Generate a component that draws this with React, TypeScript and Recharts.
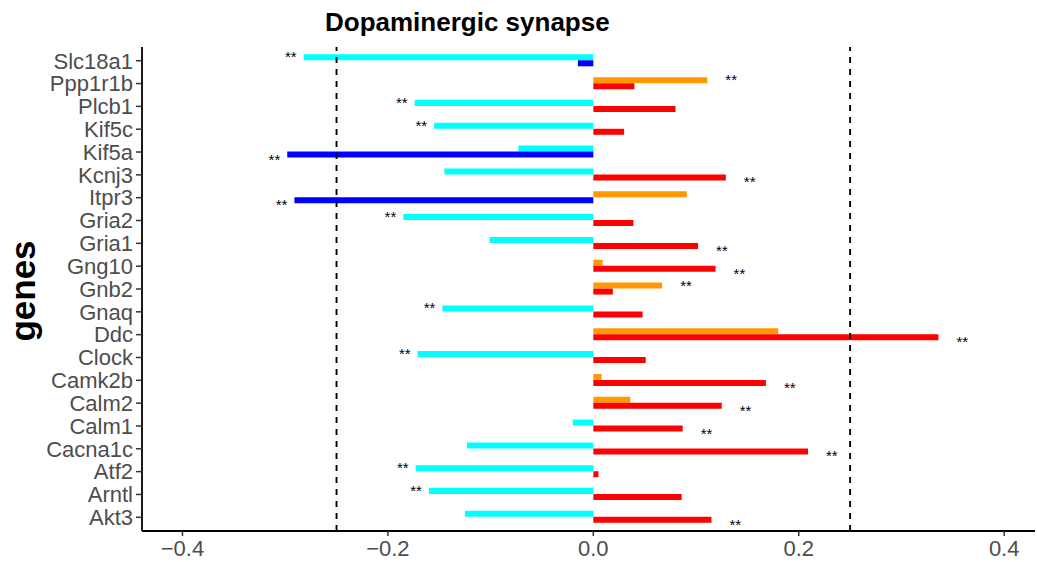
import React from "react";
import { BarChart, Bar, Cell, XAxis, YAxis, ReferenceLine, LabelList } from "recharts";

const genes = ["Slc18a1", "Ppp1r1b", "Plcb1", "Kif5c", "Kif5a", "Kcnj3", "Itpr3", "Gria2", "Gria1", "Gng10", "Gnb2",
    "Gnaq", "Ddc", "Clock", "Camk2b", "Calm2", "Calm1", "Cacna1c", "Atf2", "Arntl", "Akt3"];

// upper bar (cyan when negative, orange when positive)
const upper = [-0.282, 0.111, -0.174, -0.155, -0.073, -0.145, 0.091, -0.185, -0.101, 0.009, 0.067,
    -0.147, 0.180, -0.171, 0.008, 0.036, -0.020, -0.123, -0.173, -0.160, -0.125];
// lower bar (blue when negative, red when positive)
const lower = [-0.015, 0.040, 0.080, 0.030, -0.298, 0.129, -0.291, 0.039, 0.102, 0.119, 0.019,
    0.048, 0.336, 0.051, 0.168, 0.125, 0.087, 0.209, 0.005, 0.086, 0.115];

const upperSig = ["**", "**", "**", "**", "", "", "", "**", "", "", "**",
    "**", "", "**", "", "", "", "", "**", "**", ""];
const lowerSig = ["", "", "", "", "**", "**", "**", "", "**", "**", "",
    "", "**", "", "**", "**", "**", "**", "", "", "**"];

const xTicks = [-0.4, -0.2, 0, 0.2, 0.4];
const cutoffs = [-0.25, 0.25];

const FONT = '"Liberation Sans", Arial, Helvetica, sans-serif';

const data = genes.map((g, i) => ({
    gene: g,
    up: upper[i],
    low: lower[i],
    upLab: upperSig[i] ? upper[i] : null,
    lowLab: lowerSig[i] ? lower[i] : null,
}));

const fmtX = (v: number) => (v === 0 ? "0.0" : v.toFixed(1).replace("-", "\u2212"));

// draws the "**" just past the end of the bar
const sigLabel = (dy: number) => (props: any) => {
    const { x, y, width, height, value } = props;
    if (value === null || value === undefined) return null;
    const x0 = Number(x), w = Number(width);
    const left = Math.min(x0, x0 + w);
    const right = Math.max(x0, x0 + w);
    const cy = Number(y) + Number(height) / 2;
    const neg = Number(value) < 0;
    return (
        <text x={neg ? left - 7 : right + 18} y={cy + dy} textAnchor={neg ? "end" : "start"}
            fontSize={15} fontFamily={FONT} fill="#000">**</text>
    );
};

export default function App() {
    return (
        <div style={{ position: "absolute", left: 0, top: 0, width: 1037, height: 562, background: "#fff" }}>
            <BarChart width={1037} height={562} data={data} layout="vertical"
                margin={{ top: 47, right: 2, left: 0, bottom: 0 }} barSize={6} barGap={0}>
                <XAxis type="number" domain={[-0.4394, 0.43]} ticks={xTicks} allowDataOverflow
                    tickFormatter={fmtX} height={31} tickSize={5} tickMargin={4}
                    tick={{ fill: "#4D4D4D", fontSize: 22, fontFamily: FONT }}
                    axisLine={{ stroke: "#000", strokeWidth: 1.8 }} tickLine={{ stroke: "#333", strokeWidth: 1.5 }} />
                <YAxis type="category" dataKey="gene" width={142} padding={{ top: 2.3, bottom: 2.3 }}
                    tickSize={6} tickMargin={3} interval={0}
                    tick={{ fill: "#4D4D4D", fontSize: 22, fontFamily: FONT }}
                    axisLine={{ stroke: "#000", strokeWidth: 1.8 }} tickLine={{ stroke: "#333", strokeWidth: 1.5 }} />
                {cutoffs.map((c) => (
                    <ReferenceLine key={c} x={c} stroke="#000" strokeWidth={1.9} strokeDasharray="6 6" />
                ))}
                <Bar dataKey="up" isAnimationActive={false}>
                    {upper.map((v, i) => <Cell key={i} fill={v < 0 ? "#00FFFF" : "#FF9900"} />)}
                    <LabelList dataKey="upLab" content={sigLabel(5)} />
                </Bar>
                <Bar dataKey="low" isAnimationActive={false}>
                    {lower.map((v, i) => <Cell key={i} fill={v < 0 ? "#0000FF" : "#FF0000"} />)}
                    <LabelList dataKey="lowLab" content={sigLabel(10)} />
                </Bar>
            </BarChart>
            <svg width={1037} height={562} style={{ position: "absolute", left: 0, top: 0, pointerEvents: "none" }}>
                <text x={325} y={31} fontSize={26} fontWeight="bold" fontFamily={FONT} fill="#000">Dopaminergic synapse</text>
                <text x={0} y={0} transform="translate(35,291) rotate(-90)" textAnchor="middle"
                    fontSize={35} fontWeight="bold" fontFamily={FONT} fill="#000">genes</text>
            </svg>
        </div>
    );
}
